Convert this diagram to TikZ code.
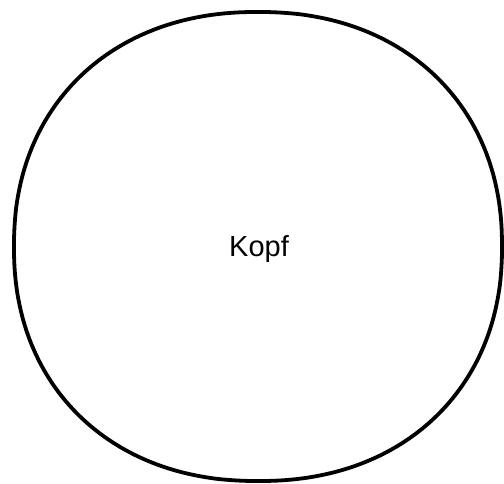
\documentclass[tikz,border=0pt]{standalone}
\usepackage{fontspec}
\setmainfont{Liberation Sans}

\begin{document}
\begin{tikzpicture}[ x=1pt, y=-1pt, line join=round ]

\useasboundingbox (0,0) rectangle (504,484);

% rounded outline of the head
\draw[line width=3.8pt] plot[domain=1:361, samples=121, smooth]
 ({258+244*sign(cos(\x))*abs(cos(\x))^0.92}, {246.5-234.5*sign(sin(\x))*abs(sin(\x))^0.92}) -- cycle;

\node[font=\fontsize{29}{34}\selectfont] (kopf) at (259,249) {Kopf};

\end{tikzpicture}
\end{document}
